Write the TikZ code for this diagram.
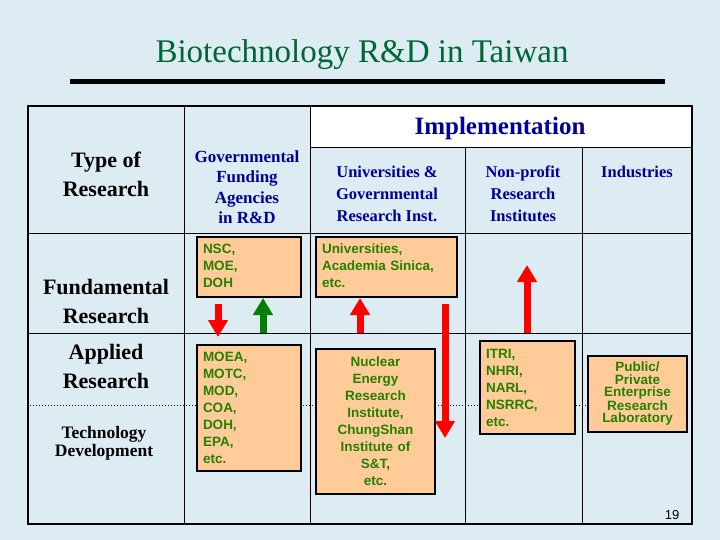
\documentclass[tikz,border=0pt]{standalone}
\usepackage{fontspec}
\setmainfont{Liberation Serif}
\newfontfamily\arialf{Liberation Sans}
\usetikzlibrary{arrows.meta}
\definecolor{bg}{HTML}{DDEBF3}
\definecolor{ttl}{HTML}{006633}
\definecolor{hdr}{HTML}{000099}
\definecolor{boxc}{HTML}{FFCC99}
\definecolor{boxt}{HTML}{267F00}
\definecolor{arred}{HTML}{FF0000}
\definecolor{argreen}{HTML}{008000}
\tikzset{
 hdrtext/.style={text=hdr,font=\fontsize{17}{20.5}\selectfont\bfseries,align=center},
 rowtext/.style={font=\fontsize{22}{29}\selectfont\bfseries,align=center},
 orgbox/.style={draw,line width=2pt,fill=boxc,text=boxt,font=\arialf\fontsize{13.5}{17}\selectfont\bfseries,inner sep=6pt},
 grid/.style={line width=1pt},
 blockarrow/.style={line width=7pt,-{Triangle[width=19pt,length=17pt]}},
}
\begin{document}
\begin{tikzpicture}[x=1pt,y=-1pt]
\fill[bg] (0,0) rectangle (720,540);
\useasboundingbox (0,0) rectangle (720,540);
\node[text=ttl,font=\fontsize{33}{36}\selectfont] (title) at (362,55) {Biotechnology R\&D in Taiwan};
\draw[line width=5pt] (70,82) -- (665,82);
% table
\fill[white] (310,106) rectangle (692,148);
\draw[grid] (310,106) -- (310,524);
\draw[grid] (184,106) -- (184,524);
\draw[grid] (465,148) -- (465,524);
\draw[grid] (582,148) -- (582,524);
\draw[grid] (310,148) -- (692,148);
\draw[grid] (28,233) -- (692,233);
\draw[grid] (28,333) -- (692,333);
\draw[line width=2pt] (28,106) rectangle (692,524);
\draw[line width=1pt,dotted] (30,405) -- (690,405);
% headers
\node[text=hdr,font=\fontsize{25}{28}\selectfont\bfseries] (impl) at (500,128) {Implementation};
\node[rowtext] (type) at (106,174) {Type of\\Research};
\node[rowtext] (fund) at (106,301) {Fundamental\\Research};
\node[rowtext] (appl) at (106,366) {Applied\\Research};
\node[font=\fontsize{17.5}{18}\selectfont\bfseries,align=center] (tech) at (104,443) {Technology\\Development};
\node[hdrtext] (gov) at (247,187) {Governmental\\Funding\\Agencies\\in R\&D};
\node[hdrtext,font=\fontsize{16.5}{22}\selectfont\bfseries] (univh) at (387,194) {Universities \&\\Governmental\\Research Inst.};
\node[hdrtext,font=\fontsize{16.5}{22}\selectfont\bfseries] (nonp) at (523,194) {Non-profit\\Research\\Institutes};
\node[hdrtext,font=\fontsize{16.5}{22}\selectfont\bfseries] (ind) at (637,172) {Industries};
% boxes
\node[orgbox,minimum width=104pt,minimum height=60pt,anchor=north west,align=left,text width=92pt] (nsc) at (196,236) {NSC,\\MOE,\\DOH\vphantom{g}};
\node[orgbox,minimum width=104pt,minimum height=126pt,anchor=north west,align=left,text width=92pt] (moea) at (196,344) {MOEA,\\MOTC,\\MOD,\\COA,\\DOH,\\EPA,\\etc.};
\node[orgbox,minimum width=141pt,minimum height=60pt,anchor=north west,align=left,text width=129pt] (univ) at (315,236) {Universities,\\Academia Sinica,\\etc.\vphantom{g}};
\node[orgbox,minimum width=119pt,minimum height=145pt,anchor=north west,align=center,text width=107pt] (nuc) at (315,348) {Nuclear\\Energy\\Research\\Institute,\\ChungShan\\Institute of\\S\&T,\\etc.};
\node[orgbox,minimum width=95pt,minimum height=93pt,anchor=north west,align=left,text width=83pt,inner sep=4pt] (itri) at (479,340) {ITRI,\\NHRI,\\NARL,\\NSRRC,\\etc.};
\node[orgbox,minimum width=99pt,minimum height=72pt,anchor=north west,align=center,text width=87pt,font=\arialf\fontsize{13.5}{12.5}\selectfont\bfseries] (pub) at (587,355) {Public/\\Private\\Enterprise\\Research\\Laboratory};
% arrows
\draw[blockarrow,arred] (218,304) -- (218,337);
\draw[blockarrow,argreen] (263,333) -- (263,298);
\draw[blockarrow,arred] (360,333) -- (360,298);
\draw[blockarrow,arred] (445,304) -- (445,438);
\draw[blockarrow,arred] (527,333) -- (527,265);
\node[font=\arialf\fontsize{13}{15}\selectfont] (pg) at (672,515) {19};
\end{tikzpicture}
\end{document}
